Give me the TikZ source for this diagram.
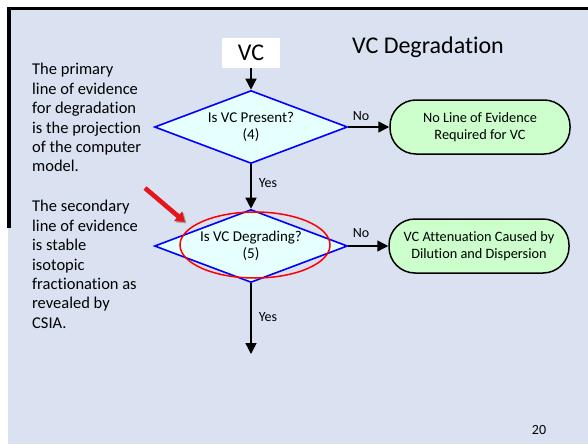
\documentclass[tikz,border=0pt]{standalone}
\usepackage{fontspec}
\setmainfont{Carlito}[Ligatures={NoCommon}]
\usetikzlibrary{shapes.geometric,arrows.meta}
\definecolor{slidebg}{HTML}{DAE2F2}
\definecolor{decfill}{HTML}{E6FFFF}
\definecolor{endfill}{HTML}{CCFFCC}
\definecolor{pointer}{HTML}{E8141B}
\begin{document}
\begin{tikzpicture}[x=1pt,y=-1pt,
  decision/.style={diamond, draw=blue, line width=1.6pt, fill=decfill,
    minimum width=193pt, minimum height=73pt, inner sep=0pt, aspect=2.6,
    align=center, font=\fontsize{15}{16.5}\selectfont},
  terminal/.style={rectangle, rounded corners=26pt, draw=black, line width=1.5pt,
    fill=endfill, minimum width=180pt, minimum height=54pt, inner sep=0pt,
    align=center, font=\fontsize{14.3}{17}\selectfont},
  startbox/.style={rectangle, fill=white, minimum width=58pt, minimum height=30pt,
    inner sep=0pt, font=\fontsize{24}{28}\selectfont},
  flow/.style={-{Triangle[length=11pt,width=11pt]}, line width=1.5pt},
  edgelabel/.style={font=\fontsize{14}{16}\selectfont, inner sep=0pt},
  note/.style={anchor=north west, align=left, inner sep=0pt,
    font=\fontsize{16.5}{19.45}\selectfont}]
  \useasboundingbox (0,0) rectangle (588,444);
  % slide background and frame
  \fill[white] (0,0) rectangle (588,444);
  \fill[slidebg] (8,8) rectangle (588,444);
  \draw[line width=3pt] (7,8.5) -- (588,8.5);
  \draw[line width=3.5pt] (8.8,7) -- (8.8,228);

  % heading
  \node[font=\fontsize{24}{28}\selectfont, inner sep=0pt] (title) at (428,47) {VC Degradation};

  % flow chart
  \node[startbox] (vc) at (251,53) {VC};
  \node[decision] (d1) at (251,127) {Is VC Present?\\(4)};
  \node[decision] (d2) at (251,246) {Is VC Degrading?\\(5)};
  \node[terminal] (t1) at (480,127) {No Line of Evidence\\Required for VC};
  \node[terminal] (t2) at (479,246) {VC Attenuation Caused by\\Dilution and Dispersion};
  \coordinate (next) at (251,354);

  \draw[flow] (vc) -- (d1);
  \draw[flow] (d1) -- (d2);
  \draw[flow] (d2) -- (next);
  \draw[flow] (d1) -- (t1);
  \draw[flow] (d2) -- (t2);

  \node[edgelabel] (no1) at (361,116) {No};
  \node[edgelabel] (no2) at (361,233) {No};
  \node[edgelabel] (yes1) at (268,183) {Yes};
  \node[edgelabel] (yes2) at (268,317) {Yes};

  % highlight of the second decision
  \draw[red, line width=1.5pt] (255,245) ellipse [x radius=75, y radius=33];
  \coordinate (ptail) at (145,188);
  \coordinate (ptip) at (185,222);
  \draw[gray!70, line width=4.5pt, -{Triangle[length=9pt,width=12pt]}]
    ([shift={(1.5,1.5)}]ptail) -- ([shift={(1.5,1.5)}]ptip);
  \draw[pointer, line width=4.5pt, -{Triangle[length=9pt,width=12pt]}] (ptail) -- (ptip);

  % side notes
  \node[note] (primary) at (32,63) {The primary\\line of evidence\\for degradation\\is the projection\\of the computer\\model.};
  \node[note] (secondary) at (32,200) {The secondary\\line of evidence\\is stable\\isotopic\\fractionation as\\revealed by\\CSIA.};

  % slide number
  \node[font=\fontsize{14}{16}\selectfont, inner sep=0pt] (pagenum) at (539,430) {20};
\end{tikzpicture}
\end{document}
